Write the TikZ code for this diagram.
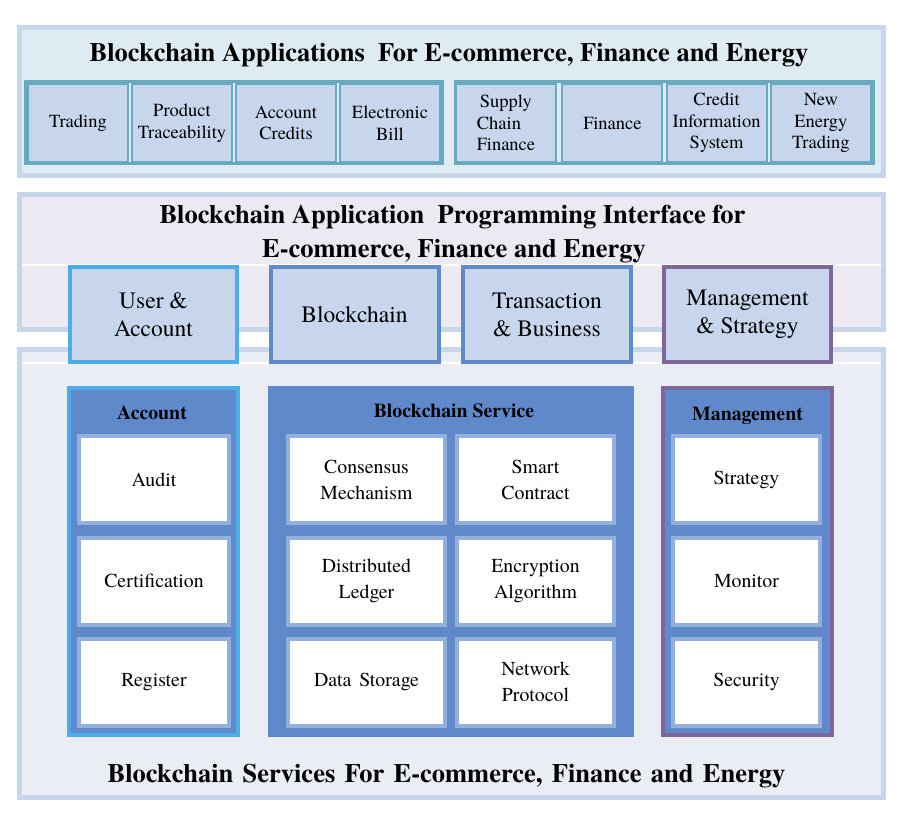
\documentclass[tikz,border=0pt]{standalone}
\usepackage{fontspec}
\setmainfont{texgyretermes}[Extension=.otf, UprightFont=*-regular, BoldFont=*-bold,
  ItalicFont=*-italic, BoldItalicFont=*-bolditalic]
\definecolor{panelborder}{HTML}{C8D6EC}
\definecolor{appfill}{HTML}{DFEBF2}
\definecolor{apifill}{HTML}{ECE9F2}
\definecolor{svfill}{HTML}{EAEDF4}
\definecolor{tealc}{HTML}{67A9C1}
\definecolor{cellfill}{HTML}{C7D6ED}
\definecolor{brightblue}{HTML}{4CAEE9}
\definecolor{midblue}{HTML}{6089CC}
\definecolor{purplec}{HTML}{7D6699}
\definecolor{cellborder}{HTML}{93AFDC}
\tikzset{
  panel/.style={draw=panelborder, line width=5pt, minimum width=864pt, inner sep=0pt},
  appgroup/.style={draw=tealc, line width=3pt, minimum height=82pt, inner sep=0pt},
  appcell/.style={draw=tealc, line width=2pt, fill=cellfill, minimum width=100pt, minimum height=78pt,
    inner sep=0pt, align=center, font=\fontsize{18.5}{21.5}\selectfont},
  apibox/.style={line width=4pt, fill=cellfill, minimum width=168pt, minimum height=95pt,
    inner sep=0pt, align=center, font=\fontsize{23.5}{28}\selectfont},
  container/.style={fill=midblue, line width=4pt, minimum height=347pt, inner sep=0pt},
  svcell/.style={draw=cellborder, line width=4pt, fill=white, minimum height=87pt,
    inner sep=0pt, align=center, font=\fontsize{19.8}{25.5}\selectfont},
  bigtitle/.style={font=\bfseries\fontsize{26.5}{34}\selectfont, anchor=base, inner sep=0pt},
  header/.style={font=\bfseries\fontsize{19.8}{24}\selectfont, anchor=base, inner sep=0pt},
  sepline/.style={draw=white, line width=2pt}
}
\begin{document}
\begin{tikzpicture}[x=1pt,y=-1pt]
\useasboundingbox (0,0) rectangle (906,818);
% panels
\node[panel, fill=appfill, minimum height=148pt] (apps) at (451.5,101.5) {};
\node[panel, fill=apifill, minimum height=135pt] (api) at (451.5,262) {};
\node[panel, fill=svfill, minimum height=448pt] (svc) at (451.5,573.5) {};
\coordinate (s1a) at (22,265); \coordinate (s1b) at (881,265);
\coordinate (s2a) at (22,363); \coordinate (s2b) at (881,363);
\draw[sepline] (s1a) -- (s1b);
\draw[sepline] (s2a) -- (s2b);
% titles
\node[bigtitle] (t1) at (449,62) {Blockchain Applications\ \ For E-commerce, Finance and Energy};
\node[bigtitle] (t2a) at (452.5,224) {Blockchain Application\ \ Programming Interface for};
\node[bigtitle] (t2b) at (454,258) {E-commerce, Finance and Energy};
\node[bigtitle] (t3) at (446.5,782) {Blockchain\hspace{0.1em} Services\hspace{0.1em} For\hspace{0.1em} E-commerce,\hspace{0.1em} Finance\hspace{0.1em} and\hspace{0.1em} Energy};
% application groups
\node[appgroup, minimum width=417pt] (gl) at (234,122.5) {};
\node[appgroup, minimum width=418pt] (gr) at (664.5,122.5) {};
\node[appcell] (a1) at (78,123) {Trading};
\node[appcell] (a2) at (182,123) {Product\\Traceability};
\node[appcell] (a3) at (286,123) {Account\\Credits};
\node[appcell] (a4) at (390,123) {Electronic\\Bill};
\node[appcell, align=left] (a5) at (506,123) {\,Supply\\Chain\\Finance};
\node[appcell] (a6) at (612.4,123) {Finance};
\node[appcell] (a7) at (716.6,123) {Credit\\Information\\System};
\node[appcell] (a8) at (820.9,123) {New\\Energy\\Trading};
% API boxes
\node[apibox, draw=brightblue, minimum width=167pt] (b1) at (153.5,314.5) {User \&\\Account};
\node[apibox, draw=midblue] (b2) at (354.5,314.5) {Blockchain};
\node[apibox, draw=midblue] (b3) at (547,314.5) {Transaction\\\& Business};
\node[apibox, draw=purplec, minimum width=167pt] (b4) at (747.5,314.5) {Management\\\& Strategy};
% service containers
\node[container, draw=brightblue, minimum width=169pt] (c1) at (153.5,561.5) {};
\node[container, minimum width=366pt, minimum height=351pt] (c2) at (451,561.5) {};
\node[container, draw=purplec, minimum width=169pt] (c3) at (747.5,561.5) {};
\node[header] (h1) at (152,420) {Account};
\node[header] (h2) at (454,418) {Blockchain Service};
\node[header] (h3) at (747.5,420.5) {Management};
% account cells
\node[svcell, minimum width=150pt] (d1) at (154,480) {Audit};
\node[svcell, minimum width=150pt] (d2) at (154,581) {Certification};
\node[svcell, minimum width=150pt] (d3) at (154,682) {Register};
% blockchain service cells
\node[svcell, minimum width=157pt] (e1) at (366.5,480) {Consensus\\Mechanism};
\node[svcell, minimum width=157pt] (e2) at (535.5,480) {Smart\\Contract};
\node[svcell, minimum width=157pt] (e3) at (366.5,581) {Distributed\\Ledger};
\node[svcell, minimum width=157pt] (e4) at (535.5,581) {Encryption\\Algorithm};
\node[svcell, minimum width=157pt] (e5) at (366.5,682) {Data\hspace{0.4em}Storage};
\node[svcell, minimum width=157pt] (e6) at (535.5,682) {Network\\Protocol};
% management cells
\node[svcell, minimum width=147pt] (f1) at (746.5,480) {Strategy};
\node[svcell, minimum width=147pt] (f2) at (746.5,581) {Monitor};
\node[svcell, minimum width=147pt] (f3) at (746.5,682) {Security};
\end{tikzpicture}
\end{document}
